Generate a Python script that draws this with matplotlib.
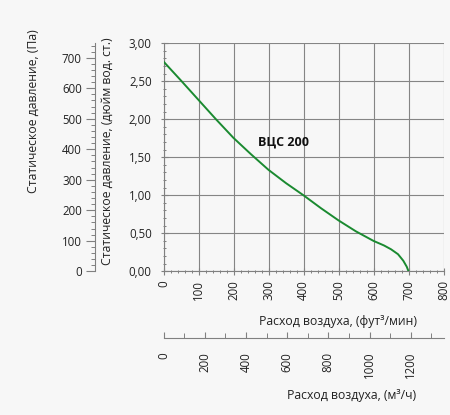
import matplotlib
matplotlib.use("Agg")
import matplotlib.pyplot as plt
from matplotlib.ticker import MultipleLocator, FuncFormatter

# Data
cfm = [0, 50, 100, 150, 200, 250, 300, 350, 400, 450, 500, 550, 600, 630, 650, 670, 685, 695, 700]
inwg = [2.76, 2.51, 2.255, 2.0, 1.755, 1.54, 1.335, 1.16, 1.0, 0.83, 0.67, 0.525, 0.40, 0.34, 0.29, 0.225, 0.14, 0.06, 0.0]
curve_label = "ВЦС 200"
PA_PER_INWG = 249.089
M3H_PER_CFM = 1.699

plt.rcParams['font.family'] = ['Open Sans', 'DejaVu Sans']
bg = '#f7f7f7'
W, H = 450, 415
fig = plt.figure(figsize=(W / 100, H / 100), dpi=100, facecolor=bg)
PT = 0.72  # points per pixel at dpi 100

def fx(px):
    return px / W

def fy(py):
    return 1 - py / H

L, R, T, B = 163.5, 443.5, 43.3, 271.3
rect = [fx(L), fy(B), fx(R) - fx(L), fy(T) - fy(B)]
ax = fig.add_axes(rect)
ax.set_facecolor(bg)
ax.set_xlim(0, 800)
ax.set_ylim(0, 3.0)
for s in ['top', 'right']:
    ax.spines[s].set_visible(False)
for s in ['left', 'bottom']:
    ax.spines[s].set_color('#808080')
    ax.spines[s].set_linewidth(0.8)
ax.xaxis.set_major_locator(MultipleLocator(100))
ax.xaxis.set_minor_locator(MultipleLocator(20))
ax.yaxis.set_major_locator(MultipleLocator(0.5))
ax.yaxis.set_minor_locator(MultipleLocator(0.1))
ax.yaxis.set_major_formatter(FuncFormatter(lambda v, p: f"{v:.2f}".replace('.', ',')))
ax.grid(True, which='major', color='#858585', linewidth=0.8)
ax.tick_params(which='major', direction='inout', length=7 * PT, width=0.8, color='#808080', labelsize=8.3, labelcolor='#222222')
ax.tick_params(which='minor', direction='inout', length=3 * PT, width=0.7, color='#808080')
ax.tick_params(axis='x', which='major', labelrotation=90, pad=4)
ax.tick_params(axis='y', which='major', pad=6)
ax.plot(cfm, inwg, color='#1a8a30', linewidth=1.4, zorder=3)
ax.text(344, 1.705, curve_label, fontsize=9, fontweight='bold', ha='center', va='center', color='#111111')

# Pa axis
axp = fig.add_axes(rect, frameon=True)
axp.patch.set_visible(False)
for s in ['top', 'right', 'bottom']:
    axp.spines[s].set_visible(False)
axp.spines['left'].set_position(('outward', (L - 95) * PT))
axp.spines['left'].set_color('#808080')
axp.spines['left'].set_linewidth(0.8)
axp.set_ylim(0, 3.0 * PA_PER_INWG)
axp.set_xticks([])
axp.yaxis.set_major_locator(MultipleLocator(100))
axp.yaxis.set_minor_locator(MultipleLocator(20))
axp.tick_params(which='major', direction='out', length=9 * PT, width=0.8, color='#808080', labelsize=8.3, labelcolor='#222222', pad=3)
axp.tick_params(which='minor', direction='out', length=4 * PT, width=0.7, color='#808080')

# m3/h axis
axm = fig.add_axes(rect, frameon=True)
axm.patch.set_visible(False)
for s in ['top', 'right', 'left']:
    axm.spines[s].set_visible(False)
axm.spines['bottom'].set_position(('outward', (338 - B) * PT))
axm.spines['bottom'].set_color('#808080')
axm.spines['bottom'].set_linewidth(0.8)
axm.set_xlim(0, 800 * M3H_PER_CFM)
axm.set_yticks([])
axm.xaxis.set_major_locator(MultipleLocator(200))
axm.xaxis.set_minor_locator(MultipleLocator(100))
axm.tick_params(which='major', direction='in', length=6 * PT, width=0.8, color='#808080', labelsize=8.3, labelcolor='#222222', labelrotation=90, pad=10)
axm.tick_params(which='minor', direction='in', length=5 * PT, width=0.7, color='#808080')

# Axis titles
lc = '#222222'
fig.text(fx(33), fy(111), "Статическое давление, (Па)", rotation=90, ha='center', va='center', fontsize=8.8, color=lc)
fig.text(fx(107), fy(151), "Статическое давление, (дюйм вод. ст.)", rotation=90, ha='center', va='center', fontsize=8.8, color=lc)
fig.text(fx(338), fy(321), "Расход воздуха, (фут³/мин)", ha='center', va='center', fontsize=8.8, color=lc)
fig.text(fx(352), fy(395), "Расход воздуха, (м³/ч)", ha='center', va='center', fontsize=8.8, color=lc)

fig.savefig("out.png", dpi=100, facecolor=bg)
